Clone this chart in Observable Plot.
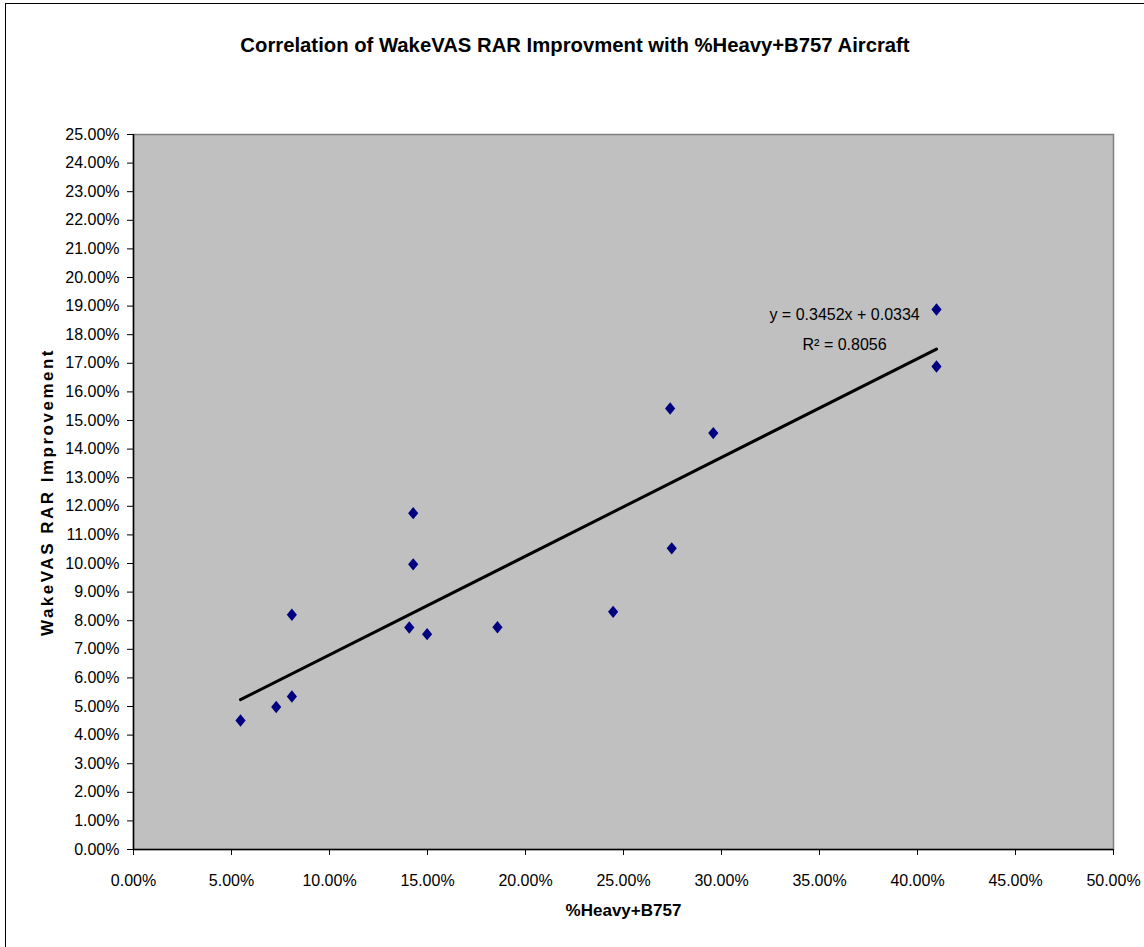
<!DOCTYPE html>
<html>
<head>
<meta charset="utf-8">
<script src="https://cdn.jsdelivr.net/npm/d3@7"></script>
<script src="https://cdn.jsdelivr.net/npm/@observablehq/plot@0.6"></script>
<style>
  html, body { margin: 0; padding: 0; background: #fff; overflow: hidden; }
  body { width: 1144px; height: 947px; position: relative; font-family: "Liberation Sans", Arial, sans-serif; }
  #border { position: absolute; left: 5px; top: 3px; width: 1200px; height: 1000px; border: 1px solid #000; box-sizing: border-box; }
  #title { position: absolute; left: 0; top: 35px; width: 1150px; text-align: center; font-size: 20.3px; line-height: 20px; font-weight: bold; color: #000; }
  #chart { position: absolute; left: 0; top: 0; }
  .ylab text { letter-spacing: 2.5px; }
</style>
</head>
<body>
<div id="border"></div>
<div id="chart"></div>
<div id="title">Correlation of WakeVAS RAR Improvment with %Heavy+B757 Aircraft</div>
<script>
// Data
const heavyShare = [0.0546, 0.0728, 0.0808, 0.0808, 0.1407, 0.1498, 0.1857, 0.1427, 0.1427, 0.2738, 0.2958, 0.2746, 0.2447, 0.4097, 0.4097];
const rarImprovement = [0.0451, 0.0498, 0.0535, 0.0821, 0.0776, 0.0753, 0.0777, 0.1176, 0.0997, 0.1542, 0.1456, 0.1053, 0.0831, 0.1888, 0.1689];

const xTicks = [0, 0.05, 0.10, 0.15, 0.20, 0.25, 0.30, 0.35, 0.40, 0.45, 0.50];
const yTicks = [0, 0.01, 0.02, 0.03, 0.04, 0.05, 0.06, 0.07, 0.08, 0.09, 0.10, 0.11, 0.12, 0.13, 0.14, 0.15, 0.16, 0.17, 0.18, 0.19, 0.20, 0.21, 0.22, 0.23, 0.24, 0.25];

const xLabel = "%Heavy+B757";
const yLabel = "WakeVAS RAR Improvement";
const equationLabels = ["y = 0.3452x + 0.0334", "R² = 0.8056"];
const equationX = [0.3628, 0.3628];
const equationY = [0.1871, 0.1766];

const data = heavyShare.map((x, i) => ({x, y: rarImprovement[i]}));
const annotations = equationLabels.map((text, i) => ({text, x: equationX[i], y: equationY[i]}));
const pct = d3.format(".2%");

const diamond = {
  draw(context, size) {
    const r = Math.sqrt(size / Math.PI);
    const w = r * 0.82;
    context.moveTo(0, -r);
    context.lineTo(w, 0);
    context.lineTo(0, r);
    context.lineTo(-w, 0);
    context.closePath();
  }
};

const chart = Plot.plot({
  width: 1144,
  height: 947,
  marginLeft: 133,
  marginRight: 31,
  marginTop: 134,
  marginBottom: 98,
  style: {fontFamily: "'Liberation Sans', Arial, sans-serif", fontSize: "16px", background: "transparent", color: "#000"},
  x: {domain: [0, 0.5]},
  y: {domain: [0, 0.25]},
  marks: [
    Plot.frame({fill: "#c0c0c0", stroke: "#808080", strokeWidth: 1.5}),
    Plot.ruleX([0], {stroke: "#000", strokeWidth: 1.5}),
    Plot.ruleY([0], {stroke: "#000", strokeWidth: 1.5}),
    Plot.axisX({ticks: xTicks, tickFormat: pct, tickSize: 6, tickPadding: 19, label: null, stroke: "#000", fill: "#000", fontSize: 16}),
    Plot.axisY({ticks: yTicks, tickFormat: pct, tickSize: 6, tickPadding: 8, label: null, stroke: "#000", fill: "#000", fontSize: 16}),
    Plot.linearRegressionY(data, {x: "x", y: "y", ci: 0, stroke: "#000", strokeWidth: 3}),
    Plot.dot(data, {x: "x", y: "y", symbol: diamond, r: 6.2, fill: "#000080", stroke: "none"}),
    Plot.text(annotations, {x: "x", y: "y", text: "text", fontSize: 16, fill: "#000"}),
    Plot.text([xLabel], {frameAnchor: "bottom", dy: 66, fontWeight: "bold", fontSize: 17, fill: "#000"}),
    Plot.text([yLabel], {frameAnchor: "left", textAnchor: "middle", dx: -86, rotate: -90, fontWeight: "bold", fontSize: 17, fill: "#000", className: "ylab"})
  ]
});
chart.querySelectorAll("text").forEach((t) => {
  if (t.textContent === yLabel) t.setAttribute("letter-spacing", "2.5");
});
document.getElementById("chart").appendChild(chart);
</script>
</body>
</html>
